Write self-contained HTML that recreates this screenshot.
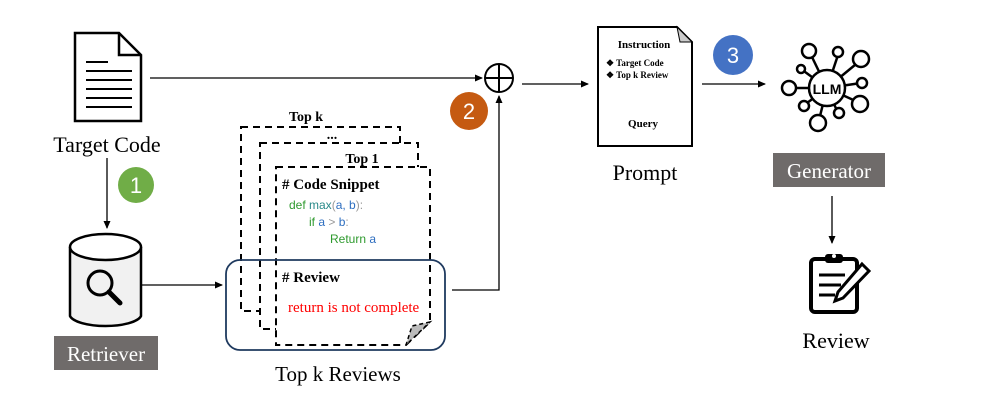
<!DOCTYPE html>
<html><head><meta charset="utf-8"><style>html,body{margin:0;padding:0;background:#fff}svg{display:block}</style></head><body>
<svg width="996" height="414" viewBox="0 0 996 414" xmlns="http://www.w3.org/2000/svg" font-family="Liberation Serif, serif">
<defs><marker id="a" markerWidth="8" markerHeight="8" refX="7" refY="4" orient="auto" markerUnits="userSpaceOnUse"><path d="M0,0.5 L8,4 L0,7.5 z" fill="#000"/></marker></defs>
<!-- target doc -->
<path d="M75,33 H119 L141,55 V121 H75 Z" fill="#fff" stroke="#000" stroke-width="2.5"/>
<path d="M119,33 V55 H141" fill="none" stroke="#000" stroke-width="2.5"/>
<g stroke="#000" stroke-width="2"><line x1="86" y1="62" x2="108" y2="62"/><line x1="86" y1="71" x2="132" y2="71"/><line x1="86" y1="80" x2="132" y2="80"/><line x1="86" y1="89" x2="132" y2="89"/><line x1="86" y1="98" x2="132" y2="98"/><line x1="86" y1="107" x2="132" y2="107"/></g>
<text x="107" y="152" font-size="22" text-anchor="middle">Target Code</text>
<line x1="107" y1="158" x2="107" y2="228" stroke="#000" stroke-width="1.3" marker-end="url(#a)"/>
<circle cx="136" cy="185" r="18" fill="#70ad47"/><text x="136" y="193" font-family="Liberation Sans,sans-serif" font-size="22" fill="#fff" text-anchor="middle">1</text>
<!-- cylinder -->
<path d="M70,247 V316 A36,12 0 0 0 141,316 V247" fill="#f1f1f1" stroke="#000" stroke-width="2.5"/>
<ellipse cx="105.5" cy="247" rx="35.5" ry="13" fill="#fff" stroke="#000" stroke-width="2.5"/>
<circle cx="100" cy="283" r="12" fill="none" stroke="#000" stroke-width="3"/>
<line x1="109" y1="292" x2="120" y2="303" stroke="#000" stroke-width="5" stroke-linecap="round"/>
<rect x="54" y="336" width="104" height="34" fill="#6f6b6a"/>
<text x="106" y="361" font-size="21" fill="#fff" text-anchor="middle">Retriever</text>
<line x1="141" y1="285" x2="222" y2="285" stroke="#000" stroke-width="1.3" marker-end="url(#a)"/>
<!-- top line -->
<line x1="150" y1="78" x2="482" y2="78" stroke="#000" stroke-width="1.3" marker-end="url(#a)"/>
<circle cx="499" cy="78" r="14" fill="#fff" stroke="#000" stroke-width="2"/>
<line x1="485" y1="78" x2="513" y2="78" stroke="#000" stroke-width="2"/><line x1="499" y1="64" x2="499" y2="92" stroke="#000" stroke-width="2"/>
<circle cx="469" cy="111" r="19" fill="#c55a11"/><text x="469" y="119" font-family="Liberation Sans,sans-serif" font-size="22" fill="#fff" text-anchor="middle">2</text>
<polyline points="452,290 499,290 499,96" fill="none" stroke="#000" stroke-width="1.3" marker-end="url(#a)"/>
<!-- dashed stack -->
<g fill="#fff" stroke="#000" stroke-width="2" stroke-dasharray="7,5">
<rect x="241" y="127" width="159" height="184"/>
<rect x="260" y="143" width="158" height="186"/>
<path d="M276,167 H430 V322 L406,345 H276 Z"/>
</g>
<path d="M430,322 L412,326 L406,345 Z" fill="#bbb" stroke="#000" stroke-width="1.5" stroke-dasharray="4,3"/>
<text x="306" y="121" font-size="14" font-weight="bold" text-anchor="middle">Top k</text>
<text x="332" y="139" font-size="14" font-weight="bold" text-anchor="middle">...</text>
<text x="362" y="163" font-size="14" font-weight="bold" text-anchor="middle">Top 1</text>
<text x="282" y="189" font-size="15" font-weight="bold"># Code Snippet</text>
<g font-family="Liberation Sans,sans-serif" font-size="12">
<text x="289" y="209"><tspan fill="#2e9a2e">def </tspan><tspan fill="#2a8a8a">max</tspan><tspan fill="#999">(</tspan><tspan fill="#2f6fc0">a, b</tspan><tspan fill="#999">):</tspan></text>
<text x="309" y="226"><tspan fill="#2e9a2e">if </tspan><tspan fill="#2f6fc0">a </tspan><tspan fill="#999">&gt; </tspan><tspan fill="#2f6fc0">b</tspan><tspan fill="#999">:</tspan></text>
<text x="330" y="243"><tspan fill="#2e9a2e">Return </tspan><tspan fill="#2f6fc0">a</tspan></text>
</g>
<rect x="226" y="260" width="219" height="90" rx="14" fill="none" stroke="#1f3a5f" stroke-width="1.8"/>
<text x="282" y="282" font-size="15" font-weight="bold"># Review</text>
<text x="288" y="312" font-size="15" fill="#f00">return is not complete</text>
<text x="338" y="381" font-size="21" text-anchor="middle">Top k Reviews</text>
<!-- prompt -->
<line x1="522" y1="84" x2="588" y2="84" stroke="#000" stroke-width="1.3" marker-end="url(#a)"/>
<path d="M598,27 H677 L692,42 V146 H598 Z" fill="#fff" stroke="#000" stroke-width="2"/>
<path d="M677,27 L692,42 H680 Z" fill="#ccc" stroke="#000" stroke-width="1"/>
<text x="644" y="48" font-size="11" font-weight="bold" text-anchor="middle">Instruction</text>
<text x="606" y="66" font-size="9" font-weight="bold">❖  Target Code</text>
<text x="606" y="78" font-size="9" font-weight="bold">❖  Top k Review</text>
<text x="643" y="127" font-size="11" font-weight="bold" text-anchor="middle">Query</text>
<text x="645" y="180" font-size="22" text-anchor="middle">Prompt</text>
<circle cx="733" cy="55" r="20" fill="#4472c4"/><text x="733" y="63" font-family="Liberation Sans,sans-serif" font-size="22" fill="#fff" text-anchor="middle">3</text>
<line x1="702" y1="84" x2="765" y2="84" stroke="#000" stroke-width="1.3" marker-end="url(#a)"/>
<!-- LLM -->
<g stroke="#000" stroke-width="2.5" fill="#fff">
<line x1="827" y1="88" x2="811" y2="55"/><line x1="827" y1="88" x2="838" y2="55"/><line x1="827" y1="88" x2="861" y2="60"/><line x1="827" y1="88" x2="801" y2="69"/><line x1="827" y1="88" x2="790" y2="88"/><line x1="827" y1="88" x2="861" y2="83"/><line x1="827" y1="88" x2="860" y2="103"/><line x1="827" y1="88" x2="803" y2="106"/><line x1="827" y1="88" x2="838" y2="113"/><line x1="827" y1="88" x2="819" y2="120"/>
<circle cx="809" cy="51" r="7"/><circle cx="838" cy="52" r="5"/><circle cx="861" cy="59" r="8"/><circle cx="801" cy="69" r="4"/><circle cx="789" cy="88" r="7"/><circle cx="862" cy="83" r="5"/><circle cx="860" cy="104" r="8"/><circle cx="804" cy="106" r="5"/><circle cx="839" cy="113" r="5"/><circle cx="818" cy="123" r="8"/>
<circle cx="827" cy="88" r="18"/>
</g>
<text x="827" y="94" font-family="Liberation Sans,sans-serif" font-size="14" font-weight="bold" text-anchor="middle">LLM</text>
<rect x="773" y="153" width="112" height="34" fill="#6f6b6a"/>
<text x="829" y="178" font-size="21" fill="#fff" text-anchor="middle">Generator</text>
<line x1="832" y1="196" x2="832" y2="243" stroke="#000" stroke-width="1.3" marker-end="url(#a)"/>
<!-- clipboard -->
<rect x="811" y="259" width="46" height="53" rx="4" fill="#fff" stroke="#000" stroke-width="4"/>
<rect x="825" y="254" width="18" height="9" rx="3" fill="#000"/><circle cx="834" cy="256" r="2" fill="#fff"/>
<g stroke="#000" stroke-width="3"><line x1="819" y1="275" x2="845" y2="275"/><line x1="819" y1="285" x2="841" y2="285"/><line x1="819" y1="295" x2="835" y2="295"/></g>
<path d="M862,264 L869,271 L843,298 L835,301 L838,292 Z" fill="#fff" stroke="#000" stroke-width="3"/>
<text x="836" y="348" font-size="22" text-anchor="middle">Review</text>
</svg>
</body></html>
